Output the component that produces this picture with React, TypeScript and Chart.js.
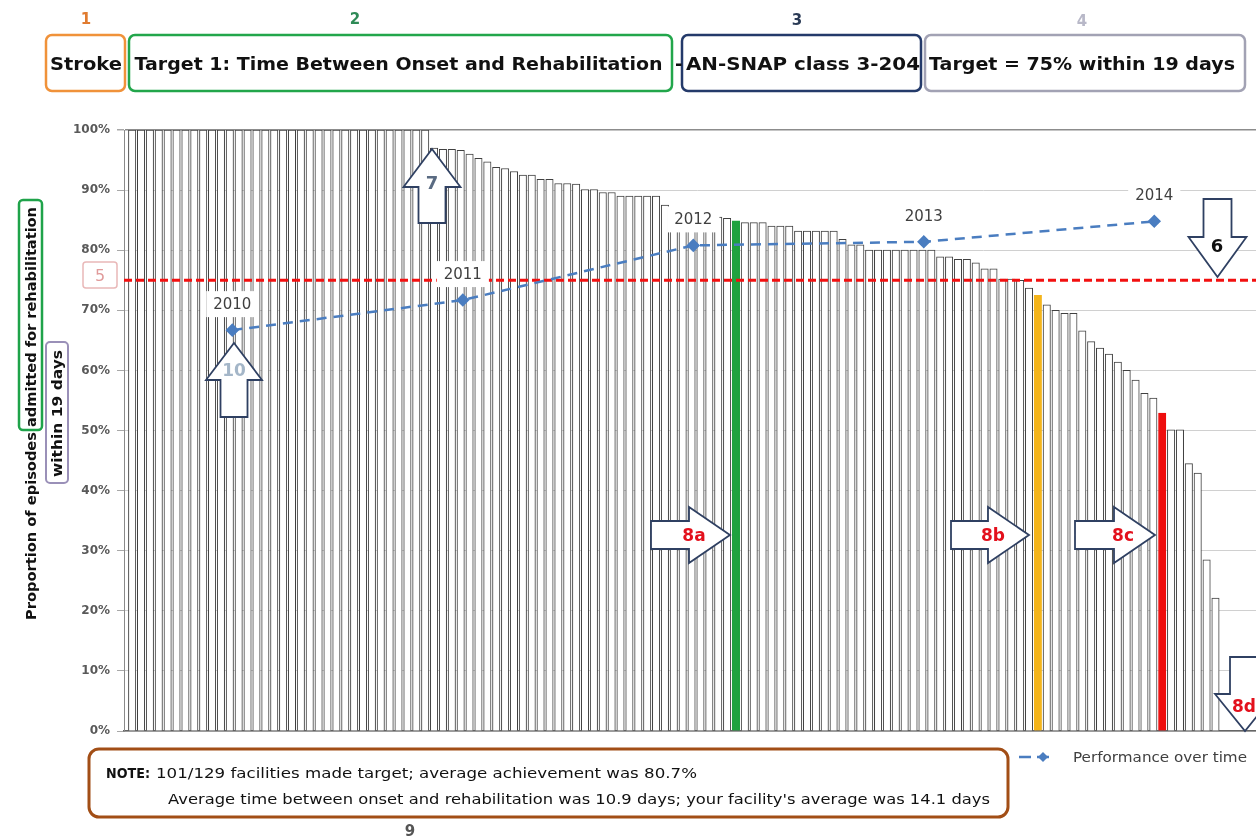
import React, { useEffect, useRef } from 'react';
import { Chart, registerables } from 'chart.js';

Chart.register(...registerables);

// ---- data ----
const FACILITY_VALUES: number[] = [
  100, 100, 100, 100, 100, 100, 100, 100, 100, 100,
  100, 100, 100, 100, 100, 100, 100, 100, 100, 100,
  100, 100, 100, 100, 100, 100, 100, 100, 100, 100,
  100, 100, 100, 100,
  97.0, 96.8, 96.8, 96.6, 96.0, 95.3, 94.7, 93.8, 93.6, 93.1,
  92.5, 92.5, 91.8, 91.8, 91.1, 91.1, 91.0, 90.1, 90.1, 89.6,
  89.6, 89.0, 89.0, 89.0, 89.0, 89.0, 87.5, 87.0, 86.5, 86.2,
  86.0, 85.8, 85.5, 85.3, 84.9, 84.6, 84.6, 84.6, 84.0, 84.0,
  84.0, 83.2, 83.2, 83.2, 83.2, 83.2, 81.8, 80.9, 80.9, 80.0,
  80.0, 80.0, 80.0, 80.0, 80.0, 80.0, 80.0, 78.9, 78.9, 78.5,
  78.5, 77.9, 76.9, 76.9, 75.2, 75.2, 75.0, 73.7, 72.5, 70.9,
  70.0, 69.5, 69.5, 66.6, 64.8, 63.7, 62.7, 61.4, 60.0, 58.4,
  56.2, 55.4, 52.9, 50.1, 50.1, 44.5, 42.9, 28.5, 22.1,
  0, 0, 0, 0, 0, 0,
];
const FACILITY_LABELS: string[] = FACILITY_VALUES.map((_, i) => `Facility ${i + 1}`);
const HIGHLIGHT_INDEX: number[] = [68, 102, 116];
const HIGHLIGHT_COLORS: string[] = ['#1fa23f', '#f4b41a', '#ee0e0e'];
const YEARS: string[] = ['2010', '2011', '2012', '2013', '2014'];
const PERFORMANCE: number[] = [66.7, 71.7, 80.8, 81.4, 84.8];
const TARGET = 75;
const Y_MAX = 100;
const Y_STEP = 10;

const BLUE = '#4a7dc0';
const ARROW_STROKE = '#2f4062';

type Pt = [number, number];
const pts = (p: Pt[]) => p.map((q) => q.join(',')).join(' ');

function upArrow(cx: number, tip: number, hb: number, hh: number, hs: number, bottom: number) {
  return pts([[cx, tip], [cx + hh, hb], [cx + hs, hb], [cx + hs, bottom], [cx - hs, bottom], [cx - hs, hb], [cx - hh, hb]]);
}
function downArrow(cx: number, top: number, hb: number, hh: number, hs: number, tip: number) {
  return pts([[cx - hs, top], [cx + hs, top], [cx + hs, hb], [cx + hh, hb], [cx, tip], [cx - hh, hb], [cx - hs, hb]]);
}
function rightArrow(cy: number, left: number, hb: number, hh: number, hs: number, tip: number) {
  return pts([[left, cy - hs], [hb, cy - hs], [hb, cy - hh], [tip, cy], [hb, cy + hh], [hb, cy + hs], [left, cy + hs]]);
}

export default function App() {
  const canvasRef = useRef<HTMLCanvasElement | null>(null);

  useEffect(() => {
    const canvas = canvasRef.current;
    if (!canvas) return;

    const bg = FACILITY_VALUES.map((_, i) => {
      const k = HIGHLIGHT_INDEX.indexOf(i);
      return k >= 0 ? HIGHLIGHT_COLORS[k] : '#ffffff';
    });
    const bc = FACILITY_VALUES.map((_, i) => {
      const k = HIGHLIGHT_INDEX.indexOf(i);
      return k >= 0 ? HIGHLIGHT_COLORS[k] : '#404040';
    });

    const overlay = {
      id: 'overlay',
      afterDatasetDraw(chart: any, args: any) {
        if (args.meta.type !== 'bar') return;
        const { ctx, chartArea, scales } = chart;
        const y = scales.y.getPixelForValue(TARGET);
        ctx.save();
        ctx.strokeStyle = '#f21010';
        ctx.lineWidth = 3;
        ctx.setLineDash([8, 4]);
        ctx.beginPath();
        ctx.moveTo(chartArea.left, y);
        ctx.lineTo(chartArea.right, y);
        ctx.stroke();
        ctx.restore();
      },
      afterDatasetsDraw(chart: any) {
        const meta = chart.getDatasetMeta(0);
        const ctx = chart.ctx;
        ctx.save();
        ctx.font = '15px "DejaVu Sans"';
        ctx.textAlign = 'center';
        ctx.textBaseline = 'middle';
        meta.data.forEach((pt: any, i: number) => {
          const text = YEARS[i];
          const w = ctx.measureText(text).width + 14;
          const h = 26;
          const cx = pt.x;
          const cy = pt.y - 26;
          ctx.fillStyle = '#ffffff';
          ctx.fillRect(cx - w / 2, cy - h / 2, w, h);
          ctx.fillStyle = '#404040';
          ctx.fillText(text, cx, cy + 1);
        });
        ctx.restore();
      },
    };

    const chart = new Chart(canvas, {
      type: 'bar',
      data: {
        labels: FACILITY_LABELS,
        datasets: [
          {
            type: 'line',
            label: 'Performance over time',
            data: PERFORMANCE.map((v, i) => ({ x: i, y: v })),
            xAxisID: 'x2',
            yAxisID: 'y',
            order: 0,
            borderColor: BLUE,
            backgroundColor: BLUE,
            borderWidth: 2.5,
            borderDash: [10, 7],
            pointStyle: 'rectRot',
            pointRadius: 5,
            pointBackgroundColor: BLUE,
            pointBorderColor: BLUE,
            fill: false,
            tension: 0,
          } as any,
          {
            type: 'bar',
            label: 'Facilities',
            data: FACILITY_VALUES,
            xAxisID: 'x',
            yAxisID: 'y',
            order: 1,
            backgroundColor: bg,
            borderColor: bc,
            borderWidth: 1,
            barThickness: 7.4,
            categoryPercentage: 1,
          } as any,
        ],
      },
      options: {
        responsive: false,
        animation: false,
        devicePixelRatio: 1,
        events: [],
        layout: { padding: { top: 130, bottom: 108, left: 0, right: 30.5 } },
        plugins: { legend: { display: false }, tooltip: { enabled: false }, title: { display: false } },
        scales: {
          x: {
            type: 'category',
            offset: true,
            ticks: { display: false },
            grid: { display: false },
            border: { display: true, color: '#666666', width: 1.5 },
            afterFit: (s: any) => { s.height = 0; },
          },
          x2: {
            type: 'linear',
            display: false,
            offset: false,
            min: -0.47,
            max: 4.5,
          },
          y: {
            position: 'left',
            min: 0,
            max: Y_MAX,
            ticks: {
              stepSize: Y_STEP,
              padding: 7,
              color: '#595959',
              font: { family: '"DejaVu Sans"', size: 12, weight: 'bold' },
              callback: (v: any) => `${v}%`,
            },
            grid: {
              color: (c: any) => (c.tick && c.tick.value === Y_MAX ? '#8c8c8c' : '#d0d0d0'),
              lineWidth: (c: any) => (c.tick && c.tick.value === Y_MAX ? 1.5 : 1),
              tickLength: 7,
              tickColor: '#a8a8a8',
            },
            border: { display: true, color: '#8a8a8a' },
            afterFit: (s: any) => { s.width = 124; },
          },
        },
      } as any,
      plugins: [overlay],
    });

    return () => chart.destroy();
  }, []);

  const txt = { fontFamily: '"DejaVu Sans", sans-serif' };

  return (
    <div style={{ position: 'fixed', left: 0, top: 0, width: 1256, height: 839, overflow: 'hidden', background: '#ffffff' }}>
      <canvas
        ref={canvasRef}
        width={1300}
        height={839}
        style={{ position: 'absolute', left: 0, top: 0, width: 1300, height: 839 }}
      />
      <svg width={1256} height={839} style={{ position: 'absolute', left: 0, top: 0 }}>
        {/* header numbers */}
        <g style={txt} fontWeight="bold" fontSize={15} textAnchor="middle" dominantBaseline="central">
          <text x={86} y={19} fill="#e07b30">1</text>
          <text x={355} y={19} fill="#2e8a56">2</text>
          <text x={797} y={20} fill="#2a3a55">3</text>
          <text x={1082} y={21} fill="#b8b8c8">4</text>
        </g>
        {/* header boxes */}
        <rect x={46} y={35} width={79} height={56} rx={6} fill="none" stroke="#f0923a" strokeWidth={2.5} />
        <rect x={129} y={35} width={543} height={56} rx={6} fill="none" stroke="#22a64b" strokeWidth={2.5} />
        <rect x={682} y={35} width={239} height={56} rx={6} fill="none" stroke="#243a6a" strokeWidth={2.5} />
        <rect x={925} y={35} width={320} height={56} rx={6} fill="none" stroke="#a2a2b4" strokeWidth={2.5} />
        <g style={txt} fontWeight="bold" fontSize={18} fill="#111111" dominantBaseline="central">
          <text x={50} y={63} textLength={72} lengthAdjust="spacingAndGlyphs">Stroke</text>
          <text x={134.5} y={63} textLength={528} lengthAdjust="spacingAndGlyphs">Target 1: Time Between Onset and Rehabilitation</text>
          <text x={675} y={63}>-</text>
          <text x={686} y={63} textLength={234} lengthAdjust="spacingAndGlyphs">AN-SNAP class 3-204</text>
          <text x={929} y={63} textLength={306} lengthAdjust="spacingAndGlyphs">Target = 75% within 19 days</text>
        </g>

        {/* y axis title */}
        <rect x={19} y={200} width={23} height={230} rx={4} fill="none" stroke="#1fa34a" strokeWidth={2.5} />
        <rect x={46} y={342} width={22} height={141} rx={4} fill="none" stroke="#9a90b8" strokeWidth={2} />
        <g style={txt} fontWeight="bold" fontSize={14} fill="#111111" dominantBaseline="central">
          <text transform="translate(31,620) rotate(-90)" textLength={188} lengthAdjust="spacingAndGlyphs">Proportion of episodes</text>
          <text transform="translate(31,427) rotate(-90)" textLength={220} lengthAdjust="spacingAndGlyphs">admitted for rehabilitation</text>
          <text transform="translate(57,477) rotate(-90)" textLength={127} lengthAdjust="spacingAndGlyphs">within 19 days</text>
        </g>

        {/* 5 box */}
        <rect x={83} y={262} width={34} height={26} rx={3} fill="#ffffff" stroke="#e9b8b8" strokeWidth={1.5} />
        <text x={100} y={275} style={txt} fontSize={16} fill="#e09a9a" textAnchor="middle" dominantBaseline="central">5</text>

        {/* arrows */}
        <g fill="#ffffff" stroke={ARROW_STROKE} strokeWidth={1.8} strokeLinejoin="miter">
          <polygon points={upArrow(432, 149, 187, 28.5, 13.5, 223)} />
          <polygon points={upArrow(234, 343, 380, 28, 13.5, 417)} />
          <polygon points={downArrow(1217.5, 199, 237, 29, 14, 277)} />
          <polygon points={downArrow(1245, 657, 694, 30, 15, 731)} />
          <polygon points={rightArrow(535, 651, 689, 28, 14, 730)} />
          <polygon points={rightArrow(535, 951, 988, 28, 14, 1029)} />
          <polygon points={rightArrow(535, 1075, 1114, 28, 14, 1155)} />
        </g>
        <g style={txt} fontWeight="bold" textAnchor="middle" dominantBaseline="central">
          <text x={432} y={182} fontSize={18} fill="#5a6b82">7</text>
          <text x={234} y={370} fontSize={17} fill="#a4b6c8">10</text>
          <text x={1217} y={245} fontSize={18} fill="#111111">6</text>
          <text x={1244} y={706} fontSize={17} fill="#e3101c">8d</text>
          <text x={694} y={535} fontSize={17} fill="#e3101c">8a</text>
          <text x={993} y={535} fontSize={17} fill="#e3101c">8b</text>
          <text x={1123} y={535} fontSize={17} fill="#e3101c">8c</text>
        </g>

        {/* note box */}
        <rect x={89} y={749} width={919} height={68} rx={10} fill="none" stroke="#a24e16" strokeWidth={3} />
        <g style={txt} fontSize={14} fill="#111111" dominantBaseline="central">
          <text x={106} y={773} fontWeight="bold" textLength={44} lengthAdjust="spacingAndGlyphs">NOTE:</text>
          <text x={156} y={773} textLength={541} lengthAdjust="spacingAndGlyphs">101/129 facilities made target; average achievement was 80.7%</text>
          <text x={168} y={799} textLength={822} lengthAdjust="spacingAndGlyphs">Average time between onset and rehabilitation was 10.9 days; your facility's average was 14.1 days</text>
        </g>
        <text x={410} y={831} style={txt} fontSize={15} fontWeight="bold" fill="#555555" textAnchor="middle" dominantBaseline="central">9</text>

        {/* legend */}
        <line x1={1019} y1={757} x2={1052} y2={757} stroke={BLUE} strokeWidth={2.5} strokeDasharray="12 6" />
        <polygon points={pts([[1043, 752], [1048, 757], [1043, 762], [1038, 757]])} fill={BLUE} />
        <text x={1073} y={757} style={txt} fontSize={14} fill="#404040" dominantBaseline="central" textLength={174} lengthAdjust="spacingAndGlyphs">Performance over time</text>
      </svg>
    </div>
  );
}
